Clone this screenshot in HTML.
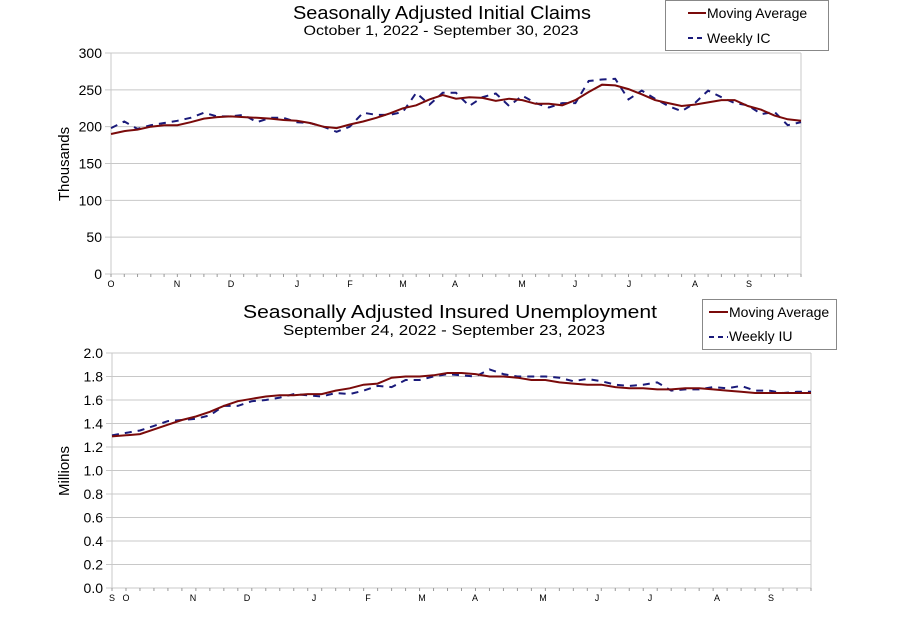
<!DOCTYPE html>
<html><head><meta charset="utf-8"><style>
body{margin:0;background:#fff;width:902px;height:616px;overflow:hidden;font-family:"Liberation Sans",Arial,sans-serif}
</style></head><body>
<svg id="s" width="902" height="616" xmlns="http://www.w3.org/2000/svg" font-family="Liberation Sans, Arial, sans-serif">
<text x="442" y="19" font-size="18" text-anchor="middle" textLength="298" lengthAdjust="spacingAndGlyphs">Seasonally Adjusted Initial Claims</text>
<text x="441" y="35" font-size="14" text-anchor="middle" textLength="275" lengthAdjust="spacingAndGlyphs">October 1, 2022 - September 30, 2023</text>
<rect x="665.5" y="0.5" width="163" height="50" fill="#fff" stroke="#888"/>
<line x1="688" y1="13" x2="706" y2="13" stroke="#7a0a0a" stroke-width="2"/>
<text x="707" y="18" font-size="14">Moving Average</text>
<line x1="688" y1="38" x2="706" y2="38" stroke="#1a1a7a" stroke-width="2" stroke-dasharray="5,4"/>
<text x="707" y="43" font-size="14">Weekly IC</text>
<text x="450" y="318" font-size="18" text-anchor="middle" textLength="414" lengthAdjust="spacingAndGlyphs">Seasonally Adjusted Insured Unemployment</text>
<text x="444" y="335" font-size="15" text-anchor="middle" textLength="322" lengthAdjust="spacingAndGlyphs">September 24, 2022 - September 23, 2023</text>
<rect x="702.5" y="299.5" width="134" height="50" fill="#fff" stroke="#888"/>
<line x1="709" y1="312" x2="728" y2="312" stroke="#7a0a0a" stroke-width="2"/>
<text x="729" y="317" font-size="14">Moving Average</text>
<line x1="709" y1="337" x2="728" y2="337" stroke="#1a1a7a" stroke-width="2" stroke-dasharray="5,4"/>
<text x="729" y="341" font-size="14">Weekly IU</text>
<text transform="translate(69,164) rotate(-90)" font-size="15" text-anchor="middle">Thousands</text>
<text transform="translate(69,471) rotate(-90)" font-size="15" text-anchor="middle">Millions</text>
<g id="g"></g>
</svg>
<script>
var NS="http://www.w3.org/2000/svg",g=document.getElementById('g');
function el(t,a,txt){var e=document.createElementNS(NS,t);for(var k in a)e.setAttribute(k,a[k]);if(txt!=null)e.textContent=txt;g.appendChild(e);return e;}
function chart(o){
 var x0=o.x0,x1=o.x1,yt=o.yt,yb=o.yb;
 for(var i=0;i<=o.n;i++){var y=yb-(yb-yt)*i/o.n;
  el('line',{x1:x0-6,x2:x1,y1:y,y2:y,stroke:'#c8c8c8','stroke-width':1});
  el('text',{x:x0-9,y:y+5,'font-size':14,'text-anchor':'end'},o.lab(i));}
 el('line',{x1:x1,x2:x1,y1:yt,y2:yb,stroke:'#c8c8c8'});
 el('line',{x1:x0,x2:x0,y1:yt,y2:yb+3,stroke:'#c8c8c8'});
 var N=o.w.length-1;
 for(var i=0;i<=N;i++){var x=x0+(x1-x0)*i/N;el('line',{x1:x,x2:x,y1:yb,y2:yb+3,stroke:'#999'});}
 o.m.forEach(function(m){el('text',{x:m[1],y:yb+13,'font-size':9,'text-anchor':'middle'},m[0]);});
 function pts(a){var N=a.length-1;return a.map(function(v,i){return (x0+(x1-x0)*i/N).toFixed(1)+','+(yb-(v-o.min)/(o.max-o.min)*(yb-yt)).toFixed(1);}).join(' ');}
 el('polyline',{points:pts(o.w),fill:'none',stroke:'#1a1a7a','stroke-width':2,'stroke-dasharray':'7,6'});
 el('polyline',{points:pts(o.a),fill:'none',stroke:'#7a0a0a','stroke-width':2});
}
chart({x0:111,x1:801,yt:53,yb:274,n:6,min:0,max:300,lab:function(i){return String(i*50);},
 m:[['O',111],['N',177],['D',231],['J',297],['F',350],['M',403],['A',455],['M',522],['J',575],['J',629],['A',695],['S',749]],
 w:[198,207,197,202,205,208,212,219,214,214,216,206,212,212,206,205,200,193,200,219,216,216,220,246,230,246,246,228,240,245,228,242,232,226,232,232,262,264,265,237,249,238,228,221,232,249,240,232,229,217,220,202,206],
 a:[190,194,196,200,202,202,206,211,213,214,213,212,211,209,208,205,200,198,203,207,212,218,225,229,237,243,238,240,239,235,238,236,231,231,229,236,247,257,256,251,244,236,232,228,230,233,236,236,228,223,215,210,208]});
chart({x0:112,x1:811,yt:353,yb:588,n:10,min:0,max:2,lab:function(i){return (i*0.2).toFixed(1);},
 m:[['S',112],['O',126],['N',193],['D',247],['J',314],['F',368],['M',422],['A',475],['M',543],['J',597],['J',650],['A',717],['S',771]],
 w:[1.30,1.32,1.34,1.38,1.42,1.43,1.44,1.47,1.55,1.55,1.59,1.60,1.62,1.65,1.64,1.63,1.66,1.65,1.68,1.72,1.71,1.77,1.77,1.80,1.82,1.81,1.80,1.86,1.82,1.80,1.80,1.80,1.79,1.76,1.78,1.76,1.73,1.72,1.73,1.75,1.68,1.69,1.69,1.71,1.70,1.72,1.68,1.68,1.66,1.67,1.67],
 a:[1.29,1.30,1.31,1.35,1.39,1.43,1.46,1.50,1.55,1.59,1.61,1.63,1.64,1.64,1.65,1.65,1.68,1.70,1.73,1.74,1.79,1.80,1.80,1.81,1.83,1.83,1.82,1.80,1.80,1.79,1.77,1.77,1.75,1.74,1.73,1.73,1.71,1.70,1.70,1.69,1.69,1.70,1.70,1.69,1.68,1.67,1.66,1.66,1.66,1.66,1.66]});
</script>
</body></html>
